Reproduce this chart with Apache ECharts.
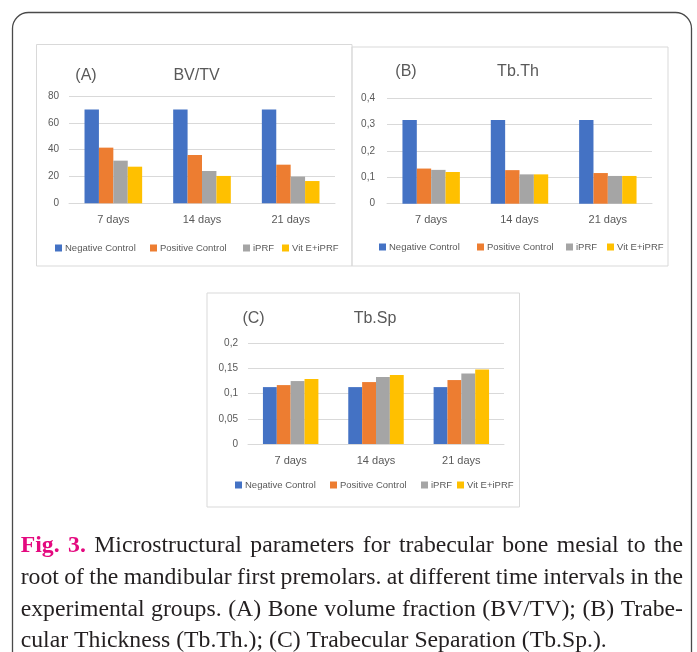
<!DOCTYPE html>
<html><head><meta charset="utf-8">
<script src="https://cdn.jsdelivr.net/npm/echarts@6/dist/echarts.min.js"></script>
<style>html,body{margin:0;padding:0;background:#fff}#c{width:697px;height:652px}</style>
</head><body><div id="c"></div>
<script>
// ---------- data ----------
const categories = ['7 days', '14 days', '21 days'];
const groups = ['Negative Control', 'Positive Control', 'iPRF', 'Vit E+iPRF'];

const bvtvNegative = [70, 70, 70];
const bvtvPositive = [41.5, 36, 28.8];
const bvtvIprf     = [31.8, 24.1, 19.9];
const bvtvVitE     = [27.3, 20.4, 16.6];

const tbthNegative = [0.317, 0.317, 0.317];
const tbthPositive = [0.133, 0.127, 0.116];
const tbthIprf     = [0.128, 0.111, 0.105];
const tbthVitE     = [0.120, 0.111, 0.105];

const tbspNegative = [0.113, 0.113, 0.113];
const tbspPositive = [0.117, 0.123, 0.127];
const tbspIprf     = [0.125, 0.133, 0.140];
const tbspVitE     = [0.129, 0.137, 0.148];

const axisA = { min: 0, max: 80, interval: 20 };
const axisB = { min: 0, max: 0.4, interval: 0.1 };
const axisC = { min: 0, max: 0.2, interval: 0.05 };

const panelTitles = [['(A)', 'BV/TV'], ['(B)', 'Tb.Th'], ['(C)', 'Tb.Sp']];
const captionLines = [
  'Fig. 3. Microstructural parameters for trabecular bone mesial to the',
  'root of the mandibular first premolars. at different time intervals in the',
  'experimental groups. (A) Bone volume fraction (BV/TV); (B) Trabe-',
  'cular Thickness (Tb.Th.); (C) Trabecular Separation (Tb.Sp.).'
];

// ---------- styling ----------
const colors = ['#4472C4', '#ED7D31', '#A5A5A5', '#FFC000'];
const FONT = '"Liberation Sans", Arial, sans-serif';
const TXT = '#595959';
const GRIDC = '#D9D9D9';

const grids = [
  { left: 69, top: 96, width: 266, height: 107.3 },
  { left: 387, top: 98, width: 265, height: 105.7 },
  { left: 248, top: 343.3, width: 256, height: 100.7 }
];
const yMargins = [10, 12, 10];
const legendLefts = [[55, 150, 243, 282], [379, 477, 566, 607], [235, 330, 421, 457]];
const legendTops = [243, 242, 480];
const titlePos = [[[86, 75.5], [196.5, 75.5]], [[406, 72], [518, 72]], [[253.5, 319], [375, 319]]];
const panels = [
  { x: 36.5, y: 44.5, w: 315.5, h: 221.5 },
  { x: 352, y: 47, w: 316, h: 219 },
  { x: 207, y: 293, w: 312.5, h: 214 }
];

const fmt = v => String(+v.toFixed(4)).replace('.', ',');
const axisDefs = [axisA, axisB, axisC];
const dataSets = [
  [bvtvNegative, bvtvPositive, bvtvIprf, bvtvVitE],
  [tbthNegative, tbthPositive, tbthIprf, tbthVitE],
  [tbspNegative, tbspPositive, tbspIprf, tbspVitE]
];

const xAxis = [], yAxis = [], series = [], legend = [];
for (let p = 0; p < 3; p++) {
  xAxis.push({
    type: 'category', gridIndex: p, data: categories,
    axisLine: { show: true, lineStyle: { color: GRIDC, width: 1 } },
    axisTick: { show: false },
    axisLabel: { color: TXT, fontSize: 11, fontFamily: FONT, margin: 11 },
    splitLine: { show: false }
  });
  yAxis.push({
    type: 'value', gridIndex: p, min: axisDefs[p].min, max: axisDefs[p].max, interval: axisDefs[p].interval,
    axisLine: { show: false }, axisTick: { show: false },
    axisLabel: { color: TXT, fontSize: 10, fontFamily: FONT, margin: yMargins[p], formatter: fmt },
    splitLine: { show: true, lineStyle: { color: GRIDC, width: 1 } }
  });
  groups.forEach((g, i) => {
    series.push({
      type: 'bar', name: g, xAxisIndex: p, yAxisIndex: p,
      data: dataSets[p][i],
      barGap: '0%', barCategoryGap: '35%',
      itemStyle: { color: colors[i] },
      emphasis: { disabled: true }
    });
    legend.push({
      data: [g], left: legendLefts[p][i], top: legendTops[p], orient: 'horizontal',
      padding: 0, itemWidth: 7, itemHeight: 7, icon: 'rect', selectedMode: false,
      textStyle: { color: TXT, fontSize: 9.5, fontFamily: FONT, padding: [0, 0, 0, -2] }
    });
  });
}

// ---------- graphics ----------
const graphic = [];
graphic.push({
  type: 'rect', shape: { x: 12.5, y: 12.5, width: 679, height: 720, r: 16 },
  style: { fill: 'none', stroke: '#4a4a4a', lineWidth: 1.3 }, silent: true, z: -10
});
panels.forEach(pn => graphic.push({
  type: 'rect', shape: { x: pn.x, y: pn.y, width: pn.w, height: pn.h },
  style: { fill: 'none', stroke: '#D9D9D9', lineWidth: 1 }, silent: true, z: -5
}));
panelTitles.forEach((t, p) => {
  t.forEach((s, k) => graphic.push({
    type: 'text', x: titlePos[p][k][0], y: titlePos[p][k][1], silent: true,
    style: { text: s, font: '16px ' + FONT, fill: TXT, align: 'center', verticalAlign: 'middle' }
  }));
});

// caption, justified, word by word
const cv = document.createElement('canvas').getContext('2d');
const capReg = '23px "Liberation Serif", "Times New Roman", serif';
const capBold = 'bold 23px "Liberation Serif", "Times New Roman", serif';
function tw(t, f) { cv.font = f; return cv.measureText(t).width; }
const capLeft = 20.7, capRight = 683, lastRight = 609;
const baselines = [553.5, 586, 617.5, 648.5];
const words = captionLines.map(l => l.split(' '));
function wfont(li, wi) { return (li === 0 && wi < 2) ? capBold : capReg; }
const lastNat = words[3].reduce((a, w, i) => a + tw(w, wfont(3, i)), 0) + (words[3].length - 1) * tw(' ', capReg);
let sc = (lastRight - capLeft) / lastNat;
for (let li = 0; li < 3; li++) {
  const sum = words[li].reduce((a, w, i) => a + tw(w, wfont(li, i)), 0);
  const minGap = tw(' ', capReg) * 0.9;
  const maxS = (capRight - capLeft) / (sum + minGap * (words[li].length - 1));
  if (maxS < sc) sc = maxS;
}
words.forEach((ws, li) => {
  const sum = ws.reduce((a, w, i) => a + tw(w, wfont(li, i)) * sc, 0);
  const gap = li < 3 ? (capRight - capLeft - sum) / (ws.length - 1) : tw(' ', capReg) * sc;
  let x = capLeft;
  ws.forEach((w, wi) => {
    const f = wfont(li, wi);
    graphic.push({
      type: 'text', x: x, y: baselines[li] - 7.8, scaleX: sc, silent: true,
      style: { text: w, font: f, fill: (li === 0 && wi < 2) ? '#E4097F' : '#231F20', align: 'left', verticalAlign: 'middle' }
    });
    x += tw(w, f) * sc + gap;
  });
});

const chart = echarts.init(document.getElementById('c'), null, { renderer: 'canvas' });
chart.setOption({
  animation: false,
  backgroundColor: '#fff',
  grid: grids,
  xAxis, yAxis, series, legend, graphic
});
</script></body></html>
